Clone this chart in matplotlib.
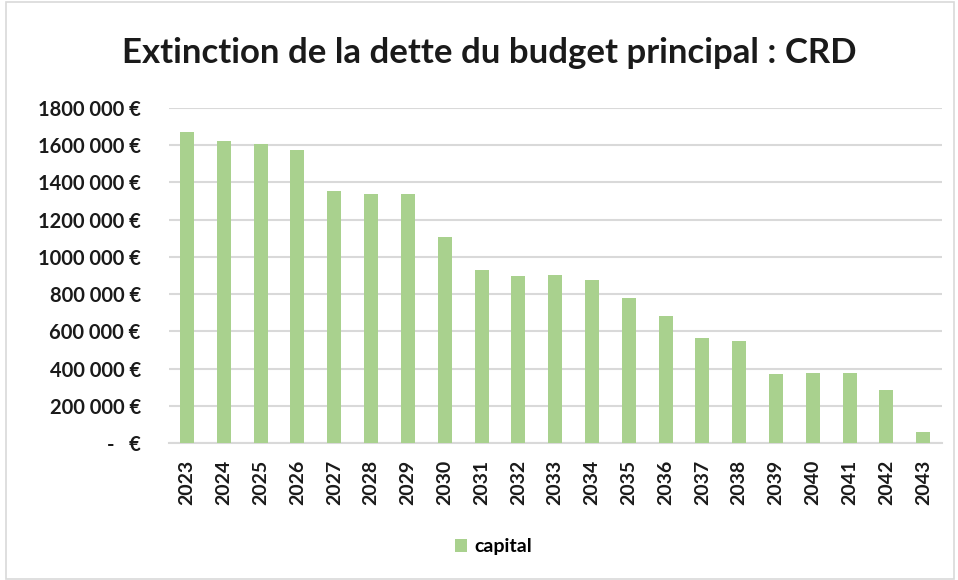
import matplotlib
matplotlib.use("Agg")
import matplotlib.pyplot as plt
from matplotlib.patches import Rectangle

years = [str(y) for y in range(2023, 2044)]
capital = [1669000, 1621000, 1607000, 1572000, 1352000, 1336000, 1336000,
           1109000, 927000, 895000, 902000, 875000, 779000, 683000, 563000,
           550000, 370000, 378000, 378000, 283000, 62000]
ytick_values = [0, 200000, 400000, 600000, 800000, 1000000, 1200000, 1400000, 1600000, 1800000]
ytick_labels = ["-   €", "200 000 €", "400 000 €", "600 000 €", "800 000 €",
                "1000 000 €", "1200 000 €", "1400 000 €", "1600 000 €", "1800 000 €"]

plt.rcParams['font.family'] = ['Lato', 'DejaVu Sans']
fig = plt.figure(figsize=(9.58, 5.8), dpi=100)
fig.patch.set_facecolor('white')
fig.add_artist(Rectangle((0.006, 0.002), 0.99, 0.994, transform=fig.transFigure,
                         fill=False, edgecolor='#D9D9D9', linewidth=1.2))

ax = fig.add_axes([0.176, 0.236, 0.807, 0.578])
x = range(len(years))
ax.bar(x, capital, width=0.38, color='#A9D18E', label='capital', zorder=3)
ax.set_xlim(-0.5, len(years) - 0.5)
ax.set_ylim(0, 1800000)
ax.set_yticks(ytick_values)
ax.set_yticklabels(ytick_labels, fontsize=14.5, fontweight='bold', color='#1a1a1a')
ax.set_xticks(list(x))
ax.set_xticklabels(years, rotation=90, fontsize=14, fontweight='bold', color='#1a1a1a')
ax.yaxis.grid(True, color='#D9D9D9', linewidth=1.5, zorder=0)
ax.set_axisbelow(True)
for s in ['top', 'right', 'left']:
    ax.spines[s].set_visible(False)
ax.spines['bottom'].set_color('#D9D9D9')
ax.spines['bottom'].set_linewidth(1.5)
ax.tick_params(axis='y', length=0, pad=20)
ax.tick_params(axis='x', length=0, pad=12)

fig.text(0.511, 0.909, "Extinction de la dette du budget principal : CRD",
         ha='center', va='center', fontsize=25, fontweight='bold', color='#1a1a1a')

leg = fig.legend(loc='center', bbox_to_anchor=(0.515, 0.057), frameon=False,
                 prop={'size': 14, 'weight': 'bold'}, handlelength=0.65, handleheight=0.65,
                 handletextpad=0.35)
plt.savefig('out.png', dpi=100)
